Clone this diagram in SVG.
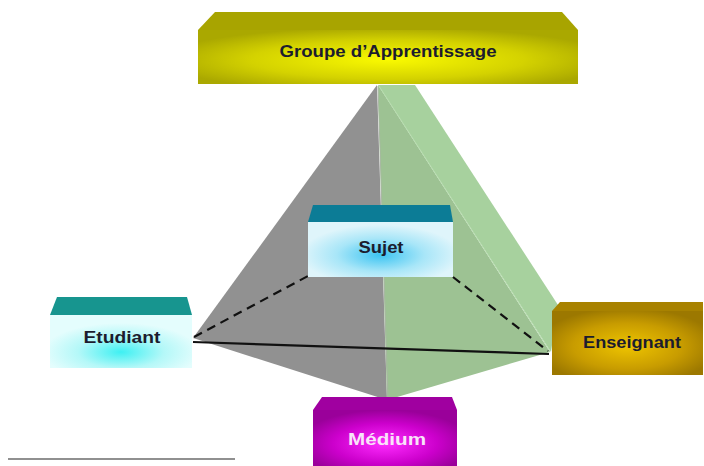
<svg xmlns="http://www.w3.org/2000/svg" width="704" height="466" viewBox="0 0 704 466">
<defs>
<style>
text{font-family:"Liberation Sans",Arial,sans-serif;font-weight:bold;font-size:17px;text-anchor:middle}
.dark{fill:#1c1c2e}
.conn{stroke:#111;stroke-width:2.2;fill:none}
.dash{stroke-dasharray:9 6}
</style>
<radialGradient id="gOlive" cx="0.5" cy="0.55" r="0.6">
<stop offset="0" stop-color="#fafa00"/><stop offset="0.6" stop-color="#d4d200"/><stop offset="1" stop-color="#aaa800"/>
</radialGradient>
<radialGradient id="gCyan1" cx="0.5" cy="0.6" r="0.55">
<stop offset="0" stop-color="#3cc4f2"/><stop offset="0.55" stop-color="#a8e6f8"/><stop offset="1" stop-color="#dff5fb"/>
</radialGradient>
<radialGradient id="gCyan2" cx="0.5" cy="0.7" r="0.55">
<stop offset="0" stop-color="#3ef0f2"/><stop offset="0.55" stop-color="#b4f8f8"/><stop offset="1" stop-color="#e4fdfd"/>
</radialGradient>
<radialGradient id="gGold" cx="0.5" cy="0.55" r="0.6">
<stop offset="0" stop-color="#eec400"/><stop offset="0.6" stop-color="#c89c00"/><stop offset="1" stop-color="#9c7800"/>
</radialGradient>
<radialGradient id="gMag" cx="0.5" cy="0.6" r="0.6">
<stop offset="0" stop-color="#ff2cff"/><stop offset="0.6" stop-color="#cc00cc"/><stop offset="1" stop-color="#9a009a"/>
</radialGradient>
</defs>
<rect width="704" height="466" fill="#ffffff"/>

<g id="pyramid">
<polygon points="377,85 193,338 387,400" fill="#919191"/>
<polygon points="378,85 550,352 387,400" fill="#9dc293"/>
<polygon points="378,85 415,85 558,305 551,352" fill="#a7d19e"/>
<line x1="379" y1="86" x2="550" y2="351" stroke="#b6dcae" stroke-width="1"/>
<line x1="378" y1="86" x2="388" y2="398" stroke="#a8b8a2" stroke-width="1"/>
</g>

<g id="groupe">
<polygon points="215,12 562,12 578,30 198,30" fill="#a8a400"/>
<rect x="198" y="30" width="380" height="54" fill="url(#gOlive)"/>
<text x="388" y="57" class="dark" textLength="217" lengthAdjust="spacingAndGlyphs">Groupe d’Apprentissage</text>
</g>

<g id="connectors">
<line class="conn dash" x1="194" y1="337" x2="308" y2="276"/>
<line class="conn dash" x1="453" y1="277" x2="548" y2="351"/>
<line class="conn" x1="193" y1="342" x2="549" y2="354"/>
</g>

<g id="sujet">
<polygon points="313,205 450,205 453,222 308,222" fill="#0c7c96"/>
<rect x="308" y="222" width="145" height="55" fill="url(#gCyan1)"/>
<text x="381" y="253" class="dark" textLength="45" lengthAdjust="spacingAndGlyphs">Sujet</text>
</g>

<g id="etudiant">
<polygon points="57,297 187,297 192,315 50,315" fill="#17958f"/>
<rect x="50" y="315" width="142" height="53" fill="url(#gCyan2)"/>
<text x="122" y="343" class="dark" textLength="77" lengthAdjust="spacingAndGlyphs">Etudiant</text>
</g>

<g id="enseignant">
<polygon points="560,302 703,302 703,311 552,311" fill="#a88200"/>
<rect x="552" y="311" width="151" height="64" fill="url(#gGold)"/>
<text x="632" y="348" class="dark" textLength="98" lengthAdjust="spacingAndGlyphs">Enseignant</text>
</g>

<g id="medium">
<polygon points="322,397 452,397 457,410 313,410" fill="#a000a0"/>
<rect x="313" y="410" width="144" height="56" fill="url(#gMag)"/>
<text x="387" y="445" fill="#f8e4f8" textLength="78" lengthAdjust="spacingAndGlyphs">Médium</text>
</g>

<line x1="8" y1="459" x2="235" y2="459" stroke="#222" stroke-width="1.2"/>
</svg>
